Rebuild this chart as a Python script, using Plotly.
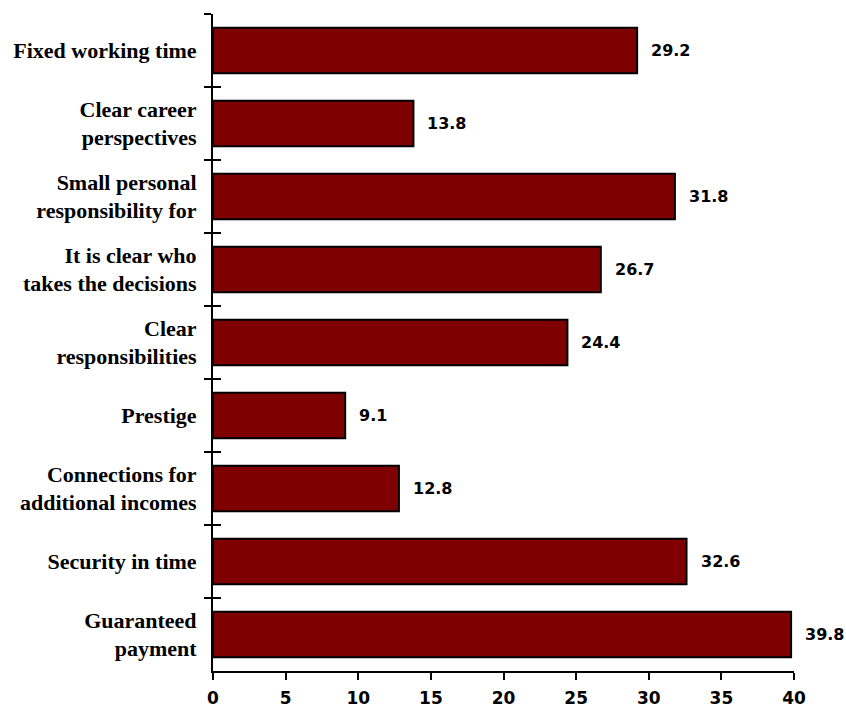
import plotly.graph_objects as go

# Survey items (top to bottom) and the share of respondents, %
categories = [
    "Fixed working time",
    "Clear career<br>perspectives",
    "Small personal<br>responsibility for",
    "It is clear who<br>takes the decisions",
    "Clear<br>responsibilities",
    "Prestige",
    "Connections for<br>additional incomes",
    "Security in time",
    "Guaranteed<br>payment",
]
values = [29.2, 13.8, 31.8, 26.7, 24.4, 9.1, 12.8, 32.6, 39.8]
x_ticks = [0, 5, 10, 15, 20, 25, 30, 35, 40]

n = len(categories)
boundaries = [i - 0.5 for i in range(n + 1)]

fig = go.Figure()
fig.add_trace(go.Bar(
    x=values,
    y=categories,
    orientation="h",
    width=0.62,
    marker=dict(color="#7f0000", line=dict(color="#000000", width=2)),
    hoverinfo="x+y",
    showlegend=False,
))
# helper trace so the overlaid axis (inner half of the boundary ticks) is drawn
fig.add_trace(go.Scatter(
    x=[0], y=[0], yaxis="y2", mode="markers",
    marker=dict(opacity=0), hoverinfo="skip", showlegend=False,
))

for cat, v in zip(categories, values):
    fig.add_annotation(
        x=v, y=cat, text=f"{v:.1f}", showarrow=False,
        xanchor="left", xshift=12,
        font=dict(family="DejaVu Sans", size=16, color="#000000", weight="bold"),
    )

fig.update_layout(
    width=846, height=708,
    margin=dict(l=213, r=52, t=14, b=37),
    paper_bgcolor="#ffffff", plot_bgcolor="#ffffff",
    bargap=0.38,
    xaxis=dict(
        range=[0, 40], tickvals=x_ticks, showgrid=False, zeroline=False,
        showline=True, linecolor="#000000", linewidth=2,
        ticks="outside", ticklen=7, tickwidth=2, tickcolor="#000000",
        ticklabelstandoff=4, automargin=False,
        tickfont=dict(family="DejaVu Sans", size=17, color="#000000", weight="bold"),
    ),
    yaxis=dict(
        type="category", range=[n - 0.5, -0.5], showgrid=False, zeroline=False,
        showline=True, linecolor="#000000", linewidth=2,
        tickson="boundaries", ticks="outside", ticklen=7, tickwidth=2, tickcolor="#000000",
        ticklabelstandoff=10, automargin=False,
        tickfont=dict(family="Liberation Serif", size=22, color="#000000", weight="bold"),
    ),
    yaxis2=dict(
        overlaying="y", side="left", range=[n - 0.5, -0.5],
        tickvals=boundaries, showticklabels=False, showgrid=False, zeroline=False,
        showline=False, ticks="inside", ticklen=8, tickwidth=2, tickcolor="#000000",
        automargin=False,
    ),
)

fig.write_html("out.html")
